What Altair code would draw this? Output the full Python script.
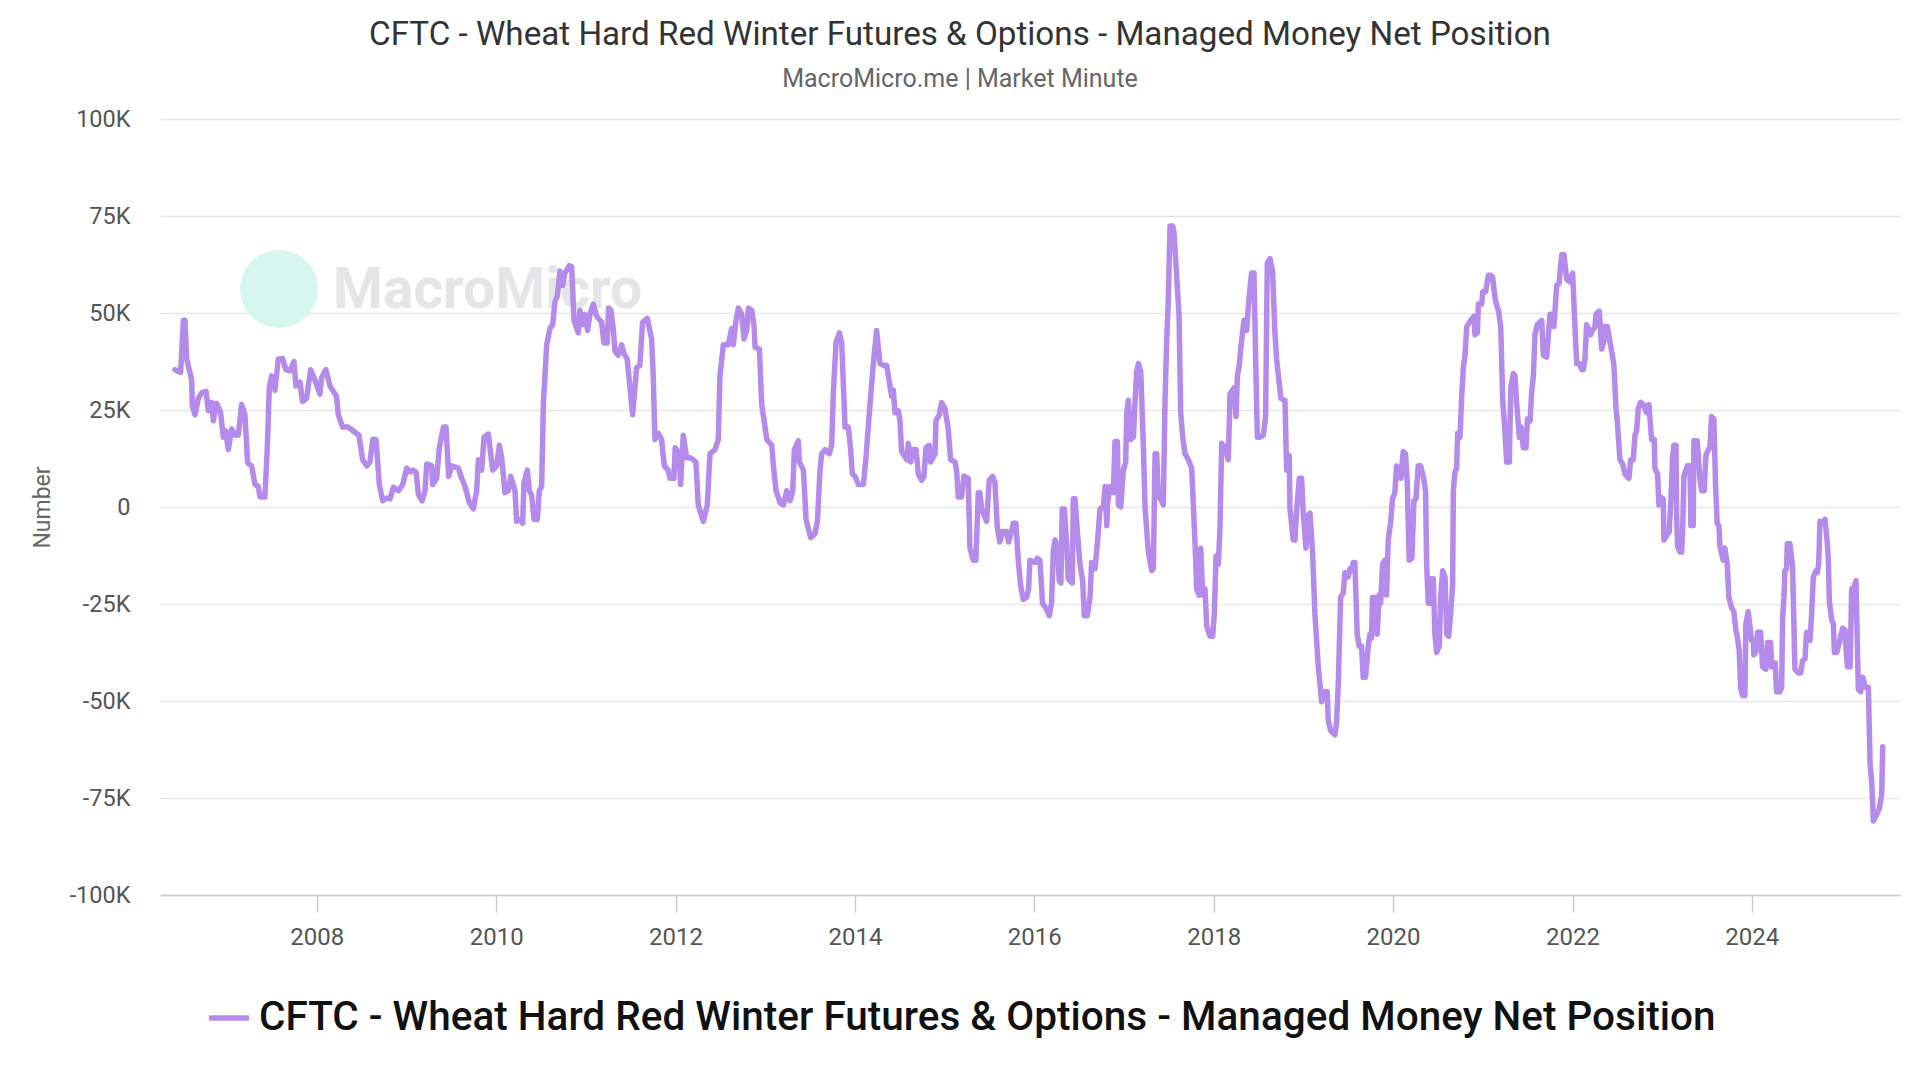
import altair as alt
import pandas as pd
import numpy as np

TITLE = "CFTC - Wheat Hard Red Winter Futures & Options - Managed Money Net Position"
SUBTITLE = "MacroMicro.me | Market Minute"
SERIES = "CFTC - Wheat Hard Red Winter Futures & Options - Managed Money Net Position"
Y_TICKS = [-100, -75, -50, -25, 0, 25, 50, 75, 100]
X_TICK_YEARS = [2008, 2010, 2012, 2014, 2016, 2018, 2020, 2022, 2024]
LINE_COLOR = "#b48beb"

# decimal years
YEARS = [
    2006.418, 2006.455, 2006.481, 2006.511, 2006.529, 2006.548, 2006.604, 2006.611, 2006.641, 2006.678,
    2006.715, 2006.764, 2006.790, 2006.827, 2006.845, 2006.882, 2006.927, 2006.957, 2006.983, 2007.013,
    2007.050, 2007.087, 2007.124, 2007.161, 2007.198, 2007.228, 2007.273, 2007.310, 2007.347, 2007.366,
    2007.421, 2007.447, 2007.470, 2007.496, 2007.533, 2007.570, 2007.618, 2007.655, 2007.700, 2007.745,
    2007.767, 2007.812, 2007.841, 2007.886, 2007.931, 2007.979, 2008.035, 2008.053, 2008.101, 2008.146,
    2008.220, 2008.239, 2008.287, 2008.350, 2008.406, 2008.469, 2008.510, 2008.555, 2008.592, 2008.622,
    2008.659, 2008.696, 2008.733, 2008.778, 2008.815, 2008.852, 2008.908, 2008.956, 2009.001, 2009.038,
    2009.068, 2009.105, 2009.131, 2009.172, 2009.205, 2009.224, 2009.280, 2009.291, 2009.335, 2009.365,
    2009.410, 2009.439, 2009.469,
    2009.503, 2009.577, 2009.614, 2009.651, 2009.700, 2009.744, 2009.781, 2009.800, 2009.837, 2009.863,
    2009.911, 2009.960, 2010.004, 2010.034, 2010.060, 2010.097, 2010.134, 2010.160, 2010.209, 2010.227,
    2010.265, 2010.294, 2010.309, 2010.346, 2010.369, 2010.395, 2010.421, 2010.458, 2010.480, 2010.506,
    2010.525, 2010.562, 2010.599, 2010.629, 2010.655, 2010.681, 2010.710, 2010.740, 2010.766, 2010.815,
    2010.841, 2010.867, 2010.915, 2010.933, 2010.963, 2010.989, 2011.019, 2011.045, 2011.082, 2011.119,
    2011.175, 2011.201, 2011.238, 2011.253, 2011.279, 2011.305, 2011.324, 2011.361, 2011.398, 2011.424,
    2011.461, 2011.521, 2011.547, 2011.565, 2011.602, 2011.632, 2011.684, 2011.733, 2011.751, 2011.770,
    2011.807, 2011.844, 2011.874, 2011.918, 2011.937, 2011.982, 2011.996, 2012.041, 2012.056, 2012.086,
    2012.123, 2012.160, 2012.197, 2012.227, 2012.253, 2012.309, 2012.353, 2012.383, 2012.439, 2012.476,
    2012.494, 2012.532, 2012.587, 2012.624, 2012.643, 2012.673, 2012.699,
    2012.736, 2012.762, 2012.792, 2012.810, 2012.848, 2012.874, 2012.885, 2012.933, 2012.959, 2012.996,
    2013.015, 2013.071, 2013.089, 2013.119, 2013.163, 2013.201, 2013.238, 2013.275, 2013.305, 2013.323,
    2013.368, 2013.379, 2013.424, 2013.453, 2013.505, 2013.554, 2013.580, 2013.609, 2013.628, 2013.665,
    2013.713, 2013.739, 2013.758, 2013.788, 2013.825, 2013.851, 2013.877, 2013.888, 2013.925, 2013.951,
    2013.970, 2014.000, 2014.037, 2014.093, 2014.122, 2014.167, 2014.204, 2014.241, 2014.278, 2014.316,
    2014.353, 2014.390, 2014.408, 2014.427, 2014.446, 2014.483, 2014.501, 2014.520, 2014.576, 2014.594,
    2014.620, 2014.643, 2014.680, 2014.706, 2014.743, 2014.769, 2014.791, 2014.828, 2014.843, 2014.892,
    2014.903, 2014.940, 2014.966, 2015.003, 2015.040, 2015.066, 2015.115, 2015.133, 2015.152, 2015.189,
    2015.215, 2015.263, 2015.282, 2015.319, 2015.349, 2015.375, 2015.393, 2015.412, 2015.468, 2015.497,
    2015.535, 2015.561, 2015.587, 2015.616, 2015.646, 2015.691, 2015.713, 2015.746, 2015.765, 2015.795,
    2015.821, 2015.847, 2015.876, 2015.914, 2015.936,
    2015.951, 2016.007, 2016.033, 2016.062, 2016.092, 2016.137, 2016.166, 2016.192, 2016.211, 2016.230,
    2016.256, 2016.278, 2016.296, 2016.311, 2016.334, 2016.360, 2016.378, 2016.423, 2016.434, 2016.453,
    2016.479, 2016.508, 2016.538, 2016.557, 2016.590, 2016.620, 2016.638, 2016.676, 2016.705, 2016.731,
    2016.768, 2016.787, 2016.806, 2016.817, 2016.843, 2016.880, 2016.898, 2016.925, 2016.936, 2016.962,
    2016.991, 2017.017, 2017.029, 2017.047, 2017.073, 2017.103, 2017.122, 2017.140, 2017.159, 2017.185,
    2017.214, 2017.233, 2017.270, 2017.307, 2017.326, 2017.345, 2017.363, 2017.382, 2017.408, 2017.437,
    2017.456, 2017.475, 2017.493, 2017.512, 2017.542, 2017.556, 2017.586, 2017.612, 2017.631, 2017.653,
    2017.679, 2017.716, 2017.753, 2017.772, 2017.791, 2017.809, 2017.835, 2017.854, 2017.876, 2017.902,
    2017.921, 2017.958, 2017.987, 2018.006, 2018.025, 2018.051, 2018.069, 2018.088, 2018.125, 2018.162,
    2018.181, 2018.225, 2018.248, 2018.263, 2018.285, 2018.300, 2018.337, 2018.367, 2018.393, 2018.422,
    2018.448, 2018.471, 2018.486, 2018.515, 2018.552, 2018.578, 2018.597, 2018.627, 2018.656, 2018.682,
    2018.701, 2018.731, 2018.749, 2018.794, 2018.813, 2018.842, 2018.850, 2018.887, 2018.905, 2018.924,
    2018.954, 2018.980, 2018.998, 2019.028, 2019.054, 2019.073, 2019.102, 2019.128, 2019.166,
    2019.203, 2019.240, 2019.266, 2019.277, 2019.303, 2019.351, 2019.370, 2019.389, 2019.415, 2019.444,
    2019.463, 2019.500, 2019.519, 2019.537, 2019.556, 2019.574, 2019.600, 2019.623, 2019.649, 2019.667,
    2019.693, 2019.723, 2019.742, 2019.760, 2019.771, 2019.797, 2019.823, 2019.846, 2019.861, 2019.883,
    2019.909, 2019.928, 2019.946, 2019.972, 2019.994, 2020.020, 2020.039, 2020.069, 2020.087, 2020.113,
    2020.139, 2020.158, 2020.180, 2020.210, 2020.232, 2020.255, 2020.281, 2020.307, 2020.336, 2020.362,
    2020.374, 2020.392, 2020.418, 2020.429, 2020.448, 2020.466, 2020.485, 2020.515, 2020.530, 2020.552,
    2020.578, 2020.597, 2020.619, 2020.641, 2020.663, 2020.671, 2020.689, 2020.708, 2020.719, 2020.745,
    2020.764, 2020.782, 2020.801, 2020.820, 2020.864, 2020.901, 2020.912, 2020.938, 2020.950, 2020.987,
    2020.998, 2021.031, 2021.061, 2021.087, 2021.109, 2021.135, 2021.154, 2021.173, 2021.199, 2021.221,
    2021.247, 2021.265, 2021.295, 2021.310, 2021.340, 2021.358, 2021.377, 2021.407, 2021.425, 2021.451,
    2021.481, 2021.496, 2021.526, 2021.544, 2021.563, 2021.581, 2021.607, 2021.656, 2021.674, 2021.711,
    2021.749, 2021.767, 2021.793, 2021.823, 2021.849, 2021.879, 2021.905, 2021.934, 2021.964, 2022.001,
    2022.027, 2022.046, 2022.076, 2022.102, 2022.120, 2022.139, 2022.157, 2022.176, 2022.202, 2022.224,
    2022.250, 2022.262, 2022.299, 2022.325, 2022.351, 2022.362, 2022.388,
    2022.436, 2022.462, 2022.485, 2022.499, 2022.529, 2022.559, 2022.585, 2022.629, 2022.648, 2022.678,
    2022.696, 2022.715, 2022.733, 2022.760, 2022.789, 2022.826, 2022.852, 2022.882, 2022.912, 2022.919,
    2022.949, 2022.964, 2022.983, 2023.012, 2023.020, 2023.049, 2023.079, 2023.098, 2023.116, 2023.131,
    2023.154, 2023.161, 2023.172, 2023.198, 2023.217, 2023.228, 2023.243, 2023.280, 2023.310, 2023.321,
    2023.347, 2023.354, 2023.391, 2023.421, 2023.440, 2023.469, 2023.488, 2023.514, 2023.533, 2023.551,
    2023.577, 2023.596, 2023.614, 2023.633, 2023.644, 2023.681, 2023.700, 2023.726, 2023.744, 2023.774,
    2023.800, 2023.822, 2023.837, 2023.860, 2023.875, 2023.897, 2023.923, 2023.934, 2023.960, 2023.979,
    2023.997, 2024.016, 2024.023, 2024.045, 2024.064, 2024.098, 2024.120, 2024.157, 2024.176, 2024.209,
    2024.220, 2024.239, 2024.261, 2024.276, 2024.313, 2024.332, 2024.343, 2024.358, 2024.369, 2024.387,
    2024.395, 2024.425, 2024.454, 2024.462, 2024.480, 2024.517, 2024.543, 2024.566, 2024.592, 2024.610,
    2024.636, 2024.648, 2024.666, 2024.685, 2024.714, 2024.729, 2024.744, 2024.759, 2024.789, 2024.815,
    2024.841, 2024.852, 2024.863, 2024.889, 2024.908, 2024.919, 2024.945, 2024.975, 2024.989, 2025.012,
    2025.038, 2025.049, 2025.064, 2025.094, 2025.112, 2025.138, 2025.160, 2025.175, 2025.186, 2025.212,
    2025.235, 2025.250, 2025.261, 2025.298, 2025.317, 2025.335, 2025.354, 2025.391, 2025.421, 2025.447,
    2025.458,
]

# net position, thousands of contracts
VALUES_K = [
    35.4, 34.9, 34.7, 48.1, 48.1, 38.1, 32.8, 25.9, 23.8, 28.0,
    29.4, 29.8, 24.8, 27.0, 22.2, 26.7, 24.3, 18.0, 19.6, 14.8,
    20.1, 18.5, 18.5, 26.4, 23.8, 11.4, 10.6, 5.8, 5.3, 2.6,
    2.6, 14.8, 30.7, 33.8, 30.1, 38.1, 38.3, 35.4, 35.1, 37.5,
    31.2, 32.2, 27.2, 28.0, 35.4, 32.8, 29.1, 33.3, 35.4, 31.2,
    28.5, 23.8, 20.6, 20.6, 19.6, 18.5, 12.2, 10.6, 11.6, 17.4,
    17.4, 5.8, 1.6, 2.3, 2.1, 5.1, 4.2, 5.8, 10.0, 9.0,
    9.5, 9.0, 3.2, 1.6, 4.2, 11.1, 10.6, 5.8, 7.4, 15.3,
    20.6, 20.6, 7.9,
    10.6, 10.0, 7.4, 5.3, 1.1, -0.5, 4.2, 12.2, 9.5, 18.0,
    18.8, 9.5, 10.6, 15.9, 12.7, 3.7, 4.2, 7.9, 4.2, -3.7,
    -3.2, -4.2, 6.3, 9.5, 4.2, 3.0, -3.2, -3.2, 4.2, 5.3,
    26.4, 41.8, 46.0, 47.0, 52.9, 54.4, 60.8, 57.1, 60.3, 62.2,
    61.9, 48.1, 44.9, 50.7, 47.0, 49.6, 45.5, 49.6, 52.3, 49.2,
    47.6, 42.3, 42.3, 51.3, 50.7, 46.0, 40.2, 39.1, 41.8, 39.6,
    38.1, 23.8, 30.7, 35.9, 36.5, 47.6, 48.6, 43.3, 33.8, 17.4,
    19.0, 17.4, 10.6, 9.5, 7.4, 7.4, 15.3, 13.7, 5.8, 18.5,
    12.7, 12.7, 12.2, 11.5, 0.5, -3.7, 0.5, 13.7, 14.8, 17.4,
    33.8, 41.8, 41.8, 46.0, 41.8, 48.1, 51.3,
    49.7, 43.3, 45.5, 51.3, 50.7, 46.5, 41.2, 40.7, 26.4, 20.6,
    17.4, 15.9, 10.6, 4.2, 1.1, 0.5, 4.2, 1.6, 4.2, 14.8,
    17.1, 11.6, 9.5, -3.2, -7.9, -6.9, -3.7, 9.5, 13.7, 14.8,
    13.7, 15.9, 29.6, 42.3, 44.9, 42.3, 27.5, 20.6, 20.6, 14.8,
    8.5, 7.9, 5.8, 5.8, 12.7, 26.4, 37.0, 45.5, 37.0, 36.5,
    36.5, 31.2, 28.5, 30.1, 24.3, 24.8, 22.2, 14.3, 12.2, 16.4,
    11.6, 14.8, 14.8, 8.5, 6.9, 7.9, 15.3, 15.9, 11.6, 13.7,
    22.2, 23.8, 26.9, 25.4, 20.1, 12.2, 11.6, 9.5, 2.6, 2.6,
    7.9, 7.4, -10.6, -13.7, -13.7, 3.7, 3.7, -0.5, -3.7, 6.9,
    7.9, 6.3, -5.3, -9.0, -6.3, -6.3, -9.0, -6.3, -4.2, -4.2,
    -13.7, -20.1, -23.8, -23.3, -21.1,
    -13.7, -14.3, -13.2, -13.7, -24.8, -26.4, -28.0, -24.8, -11.6, -8.5,
    -10.0, -19.0, -19.6, -0.5, -0.5, -9.5, -18.5, -19.6, 2.1, 2.1,
    -6.3, -14.8, -19.0, -28.0, -28.0, -23.3, -14.3, -15.9, -8.5, -0.5,
    0.0, 5.3, -4.8, 1.1, 5.3, 3.7, 16.9, 16.9, 0.5, 0.0,
    9.5, 11.6, 24.3, 27.5, 17.4, 18.0, 27.5, 34.9, 37.0, 34.9,
    15.9, 0.0, -11.6, -16.4, -15.9, 13.7, 13.7, 2.6, 2.1, 0.5,
    27.5, 43.3, 53.9, 72.4, 72.4, 70.8, 59.2, 49.7, 24.3, 18.0,
    13.7, 12.2, 10.0, 0.5, -9.5, -21.1, -22.7, -10.6, -22.7, -21.1,
    -30.7, -33.3, -33.3, -27.5, -12.7, -14.8, -5.3, 16.4, 15.3, 12.2,
    29.1, 30.7, 23.3, 33.8, 36.5, 40.7, 48.1, 45.5, 53.9, 60.3,
    60.3, 33.8, 18.0, 18.0, 18.5, 23.3, 62.9, 64.0, 60.8, 44.9,
    38.1, 31.7, 28.0, 27.5, 9.5, 13.2, -0.5, -8.5, -8.5, -1.1,
    7.4, 7.4, -1.6, -10.6, -2.1, -1.6, -11.6, -27.5, -41.2,
    -50.2, -47.6, -47.6, -55.0, -57.6, -58.7, -55.5, -45.5, -23.3, -22.2,
    -16.9, -18.0, -15.9, -16.4, -14.3, -14.3, -32.8, -35.9, -35.9, -43.9,
    -43.9, -35.9, -32.8, -33.8, -23.3, -23.3, -32.8, -22.7, -24.8, -14.8,
    -13.7, -22.7, -8.5, -4.2, 2.1, 3.7, 10.6, 9.5, 7.4, 14.3,
    13.7, 6.3, -13.7, -13.2, 1.6, 2.1, 10.6, 10.6, 7.9, 4.2,
    -14.8, -24.8, -24.8, -18.5, -18.5, -32.8, -37.5, -35.9, -23.3, -16.4,
    -18.0, -32.8, -33.3, -27.5, -20.1, 4.2, 9.0, 10.0, 19.0, 18.0,
    28.5, 35.9, 39.1, 46.5, 48.1, 49.2, 44.4, 44.9, 52.3, 52.3,
    55.5, 55.5, 59.7, 59.7, 59.2, 53.9, 51.8, 50.7, 46.5, 27.5,
    19.0, 11.6, 11.6, 30.7, 34.4, 33.8, 26.4, 18.0, 20.6, 15.3,
    15.3, 22.7, 22.2, 29.6, 33.8, 44.4, 47.0, 48.1, 39.1, 38.6,
    49.7, 49.7, 46.5, 57.1, 57.6, 65.0, 65.0, 58.7, 58.1, 60.3,
    46.5, 37.0, 37.0, 35.4, 35.4, 38.1, 47.0, 46.0, 44.4, 45.5,
    46.5, 49.7, 50.5, 40.7, 42.8, 46.5, 46.5,
    40.2, 36.5, 25.4, 22.2, 12.2, 11.1, 8.5, 7.4, 12.2, 12.2,
    18.5, 19.6, 25.4, 27.0, 26.4, 24.3, 26.4, 17.4, 17.4, 10.0,
    8.5, 0.5, 2.6, 2.1, -8.5, -7.4, -6.3, 2.1, 12.7, 15.9,
    15.9, -1.6, -10.0, -11.6, -11.6, -6.3, 7.9, 10.6, 10.6, -4.8,
    -4.8, 17.1, 17.1, 7.4, 4.2, 4.2, 13.2, 14.8, 15.3, 23.3,
    22.7, 5.3, -4.2, -4.8, -10.0, -13.7, -10.6, -14.8, -23.3, -25.9,
    -27.0, -31.7, -33.3, -37.0, -46.5, -48.6, -48.6, -30.1, -27.0, -30.7,
    -34.4, -34.4, -38.1, -37.5, -32.3, -32.3, -41.2, -41.8, -34.9, -34.9,
    -41.2, -40.2, -40.2, -47.6, -47.6, -46.5, -28.5, -23.3, -16.4, -15.9,
    -9.5, -9.5, -15.3, -23.3, -41.8, -42.8, -42.8, -39.6, -39.1, -32.3,
    -32.8, -34.4, -27.5, -18.0, -16.4, -16.9, -14.8, -3.7, -4.2, -3.2,
    -9.5, -13.7, -24.3, -29.1, -30.1, -37.5, -37.5, -34.9, -33.3, -31.2,
    -31.7, -36.5, -41.2, -41.2, -21.1, -20.6, -19.0, -35.9, -47.0, -47.6,
    -43.9, -45.0, -46.5, -46.5, -66.1, -70.8, -80.9, -79.3, -77.7, -74.0,
    -61.8,
]

X_DOMAIN_YEARS = [2006.2506, 2025.651]


def to_ts(y):
    yr = int(np.floor(y))
    start = pd.Timestamp(yr, 1, 1)
    end = pd.Timestamp(yr + 1, 1, 1)
    return start + (end - start) * (y - yr)


def to_dt(y):
    t = to_ts(y)
    return alt.DateTime(year=t.year, month=t.month, date=t.day, hours=t.hour)


df = pd.DataFrame({
    "date": [to_ts(y).strftime("%Y-%m-%dT%H:%M:%S") for y in YEARS],
    "value": VALUES_K,
    "series": SERIES,
})

one = pd.DataFrame({"k": [0]})

FONT = "Roboto"

line = alt.Chart(df).mark_line(
    strokeWidth=5.5, strokeJoin="round", strokeCap="round"
).encode(
    x=alt.X(
        "date:T",
        scale=alt.Scale(domain=[to_dt(X_DOMAIN_YEARS[0]), to_dt(X_DOMAIN_YEARS[1])]),
        axis=alt.Axis(
            values=[alt.DateTime(year=y, month=1, date=1) for y in X_TICK_YEARS],
            format="%Y", title=None, grid=False,
            tickSize=17, tickColor="#cccccc", tickWidth=1.5,
            domainColor="#cccccc", domainWidth=1.5,
            labelFontSize=24, labelColor="#555555", labelPadding=13, labelFont=FONT,
        ),
    ),
    y=alt.Y(
        "value:Q",
        scale=alt.Scale(domain=[-100, 100], nice=False),
        axis=alt.Axis(
            values=Y_TICKS,
            labelExpr="datum.value == 0 ? '0' : datum.value + 'K'",
            title="Number", ticks=False, domain=False, tickSize=0,
            gridColor="#e6e6e6", gridWidth=1.3,
            labelFontSize=23.5, labelColor="#555555", labelPadding=30, labelFont=FONT,
            titleFontSize=23, titleFontWeight="normal", titleColor="#666666",
            titlePadding=15, titleFont=FONT,
        ),
    ),
    color=alt.Color(
        "series:N",
        scale=alt.Scale(domain=[SERIES], range=[LINE_COLOR]),
        legend=alt.Legend(
            title=None, orient="none", legendX=46, legendY=876,
            symbolType="stroke", symbolStrokeWidth=5.5, symbolSize=1600,
            labelFontSize=40.5, labelFontWeight=500, labelColor="#111111",
            labelLimit=2000, labelOffset=7, padding=0, labelFont=FONT,
        ),
    ),
)

wm_circle = alt.Chart(one).mark_point(
    filled=True, shape="circle", color="#d2f5ec", opacity=0.9
).encode(x=alt.value(119), y=alt.value(170), size=alt.value(6084))

wm_text = alt.Chart(one).mark_text(
    text="MacroMicro", align="left", baseline="middle", fontSize=57,
    fontWeight="bold", color="#e4e5e7", font=FONT
).encode(x=alt.value(173), y=alt.value(172))

chart = alt.layer(wm_circle, wm_text, line).properties(
    width=1740,
    height=776,
    autosize=alt.AutoSizeParams(type="none"),
    padding={"left": 152, "top": 111, "right": 10, "bottom": 170},
    title=alt.TitleParams(
        text=TITLE, subtitle=SUBTITLE, anchor="middle", dx=-70,
        fontSize=33.2, fontWeight="normal", color="#333333", font=FONT,
        subtitleFontSize=25, subtitleColor="#666666", subtitleFont=FONT,
        offset=14, subtitlePadding=15,
    ),
).configure(
    background="white", font=FONT, view=alt.ViewConfig(stroke=None)
)

chart.save("out.html", embed_options={"renderer": "svg", "actions": False})
